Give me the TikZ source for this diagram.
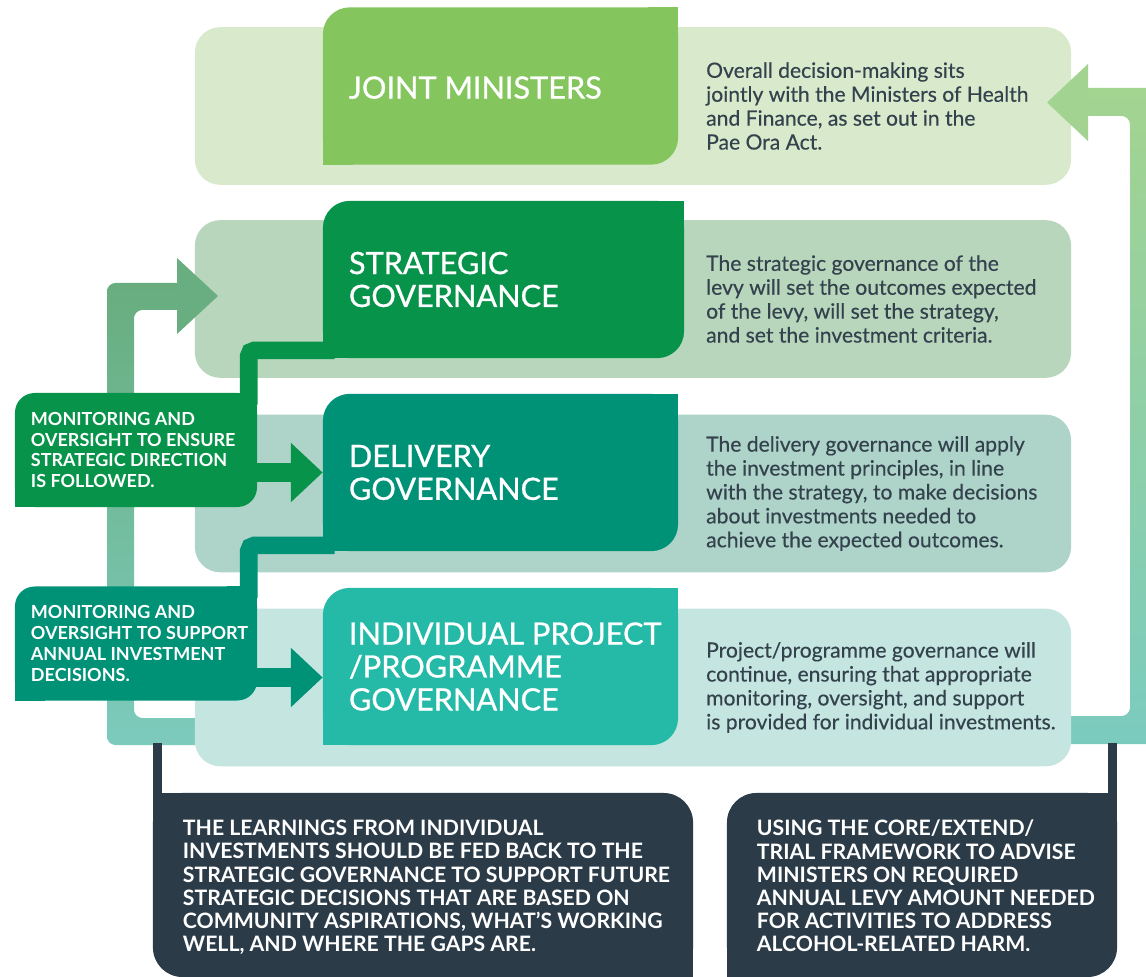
\documentclass[tikz,border=0pt]{standalone}
\usepackage{fontspec}
\setmainfont{Lato}
\newfontfamily\govfont[FakeBold=0.9]{Lato}
\newfontfamily\descfont[FakeBold=0.4]{Lato}
\usetikzlibrary{arrows.meta,positioning}

\definecolor{jmgreen}{HTML}{84C55E}
\definecolor{sggreen}{HTML}{07934A}
\definecolor{dgteal}{HTML}{009277}
\definecolor{ipgteal}{HTML}{25BAA8}
\definecolor{jmlight}{HTML}{D8EACB}
\definecolor{sglight}{HTML}{B7D6BB}
\definecolor{dglight}{HTML}{AED4C9}
\definecolor{ipglight}{HTML}{C5E6E0}
\definecolor{slate}{HTML}{2B3B48}
\definecolor{desctext}{HTML}{34424E}
\definecolor{backtop}{HTML}{67AB7A}
\definecolor{backbot}{HTML}{7DCBBE}
\definecolor{uptop}{HTML}{A5D48E}
\definecolor{upbot}{HTML}{7ACBBF}

% square off two corners of a rounded node
\newcommand{\sharpTRBL}[2]{%
  \fill[#2] (#1.north east) rectangle ++(-30,30);
  \fill[#2] (#1.south west) rectangle ++(30,-30);}
\newcommand{\sharpTLBR}[2]{%
  \fill[#2] (#1.north west) rectangle ++(30,30);
  \fill[#2] (#1.south east) rectangle ++(-30,-30);}

\tikzset{
  backbox/.style={rectangle, rounded corners=18pt, minimum width=21.9cm, minimum height=3.94cm, inner sep=0pt},
  govbox/.style={rectangle, rounded corners=19pt, minimum height=3.93cm, inner sep=0pt},
  govname/.style={anchor=west, inner sep=0pt, align=left, text=white, font=\govfont\fontsize{21.8}{23.4}\selectfont},
  desc/.style={anchor=west, inner sep=0pt, align=left, text=desctext, font=\descfont\fontsize{15}{17}\selectfont},
  notebox/.style={rectangle, rounded corners=14pt, minimum width=6.05cm, minimum height=2.85cm, inner sep=0pt},
  notetxt/.style={anchor=west, inner sep=0pt, align=left, text=white, font=\bfseries\fontsize{12.8}{14.9}\selectfont},
  darkbox/.style={rectangle, rounded corners=21pt, fill=slate, minimum height=4.6cm, inner sep=0pt},
  caps/.style={anchor=north west, inner sep=0pt, align=left, text=white, font=\bfseries\fontsize{15.1}{16.5}\selectfont},
  link/.style={line width=12.5pt, rounded corners=4pt},
  push/.style={line width=13.5pt, -{Triangle[length=22.7pt,width=41pt]}},
}

\begin{document}
\begin{tikzpicture}[x=0.025cm, y=-0.025cm]
\useasboundingbox (0,0) rectangle (1146,977);
\clip (0,0) rectangle (1146,977);

% feedback bars
\begin{scope}
  \clip[rounded corners=6pt] (205,745) -- (107,745) -- (107,283) -- (190,283) -- (190,310) -- (134,310) -- (134,718) -- (205,718) -- cycle;
  \shade[top color=backtop, bottom color=backbot] (100,250) rectangle (230,750);
\end{scope}
\begin{scope}
  \clip[rounded corners=6pt] (1060,716) -- (1130,716) -- (1130,116) -- (1075,116) -- (1075,88) -- (1160,88) -- (1160,744) -- (1060,744) -- cycle;
  \shade[top color=uptop, bottom color=upbot] (1040,60) rectangle (1160,750);
\end{scope}

% rows
\node (row1) at (633,106) [backbox, fill=jmlight] {};
\node (row2) at (633,299) [backbox, fill=sglight] {};
\node (row3) at (633,493.5) [backbox, fill=dglight] {};
\node (row4) at (633,687.5) [backbox, fill=ipglight] {};

% arrow heads of the feedback bars
\fill[backtop!91!backbot] (177,258) -- (218,296) -- (177,334) -- cycle;
\fill[uptop!94!upbot] (1088,64) -- (1088,141) -- (1047,102.5) -- cycle;

% governance boxes
\node (jm) at (500.5,86) [govbox, fill=jmgreen, minimum width=8.875cm] {};
\sharpTRBL{jm}{jmgreen}
\node (sg) at (503.5,279.5) [govbox, fill=sggreen, minimum width=9.025cm] {};
\sharpTRBL{sg}{sggreen}
\node (dg) at (500.5,472.5) [govbox, fill=dgteal, minimum width=8.875cm] {};
\sharpTRBL{dg}{dgteal}
\node (ipg) at (500.5,666.5) [govbox, fill=ipgteal, minimum width=8.875cm] {};
\sharpTRBL{ipg}{ipgteal}

\node (jmname) [govname] at ([xshift=0.65cm,yshift=-0.04cm]jm.west) {JOINT MINISTERS};
\node (sgname) [govname] at ([xshift=0.65cm]sg.west) {STRATEGIC\\GOVERNANCE};
\node (dgname) [govname] at ([xshift=0.65cm]dg.west) {DELIVERY\\GOVERNANCE};
\node (ipgname) [govname] at ([xshift=0.65cm]ipg.west) {INDIVIDUAL PROJECT\\/PROGRAMME\\GOVERNANCE};

\node (jmnote) [desc] at ([xshift=12.78cm]row1.west) {Overall decision-making sits\\jointly with the Ministers of Health\\and Finance, as set out in the\\Pae Ora Act.};
\node (sgnote) [desc] at ([xshift=12.78cm]row2.west) {The strategic governance of the\\levy will set the outcomes expected\\of the levy, will set the strategy,\\and set the investment criteria.};
\node (dgnote) [desc] at ([xshift=12.78cm]row3.west) {The delivery governance will apply\\the investment principles, in line\\with the strategy, to make decisions\\about investments needed to\\achieve the expected outcomes.};
\node (ipgnote) [desc] at ([xshift=12.78cm]row4.west) {Project/programme governance will\\continue, ensuring that appropriate\\monitoring, oversight, and support\\is provided for individual investments.};

% monitoring labels
\node (watch1) at (136,450) [notebox, fill=sggreen] {};
\sharpTRBL{watch1}{sggreen}
\node (watch2) at (136,643.5) [notebox, fill=dgteal] {};
\sharpTRBL{watch2}{dgteal}
\draw[link, sggreen] ([xshift=0.3cm,yshift=0.2cm]sg.south west) -| ([xshift=5.85cm,yshift=-0.3cm]watch1.north west);
\draw[link, dgteal] ([xshift=0.3cm,yshift=0.15cm]dg.south west) -| ([xshift=5.85cm,yshift=-0.3cm]watch2.north west);
\coordinate (ipgin) at ([yshift=-0.275cm]ipg.west);
\draw[push, sggreen] ([xshift=-0.2cm]watch1.east |- dg.west) -- (dg.west);
\draw[push, dgteal] ([xshift=-0.2cm]watch2.east |- ipgin) -- (ipgin);

\node (watch1txt) [notetxt] at ([xshift=0.4cm]watch1.west) {MONITORING AND\\OVERSIGHT TO ENSURE\\STRATEGIC DIRECTION\\IS FOLLOWED.};
\node (watch2txt) [notetxt] at ([xshift=0.4cm]watch2.west) {MONITORING AND\\OVERSIGHT TO SUPPORT\\ANNUAL INVESTMENT\\DECISIONS.};

% bottom boxes
\node (learn) at (423,885) [darkbox, minimum width=13.5cm] {};
\sharpTLBR{learn}{slate}
\node (levy) at (922,885) [darkbox, minimum width=9.75cm] {};
\sharpTRBL{levy}{slate}
\fill[slate] (learn.north west) rectangle ++(9,-50);
\fill[slate] (levy.north east) rectangle ++(-9,-50);

\node (learntxt) [caps] at ([xshift=0.75cm,yshift=-0.68cm]learn.north west) {THE LEARNINGS FROM INDIVIDUAL\\INVESTMENTS SHOULD BE FED BACK TO THE\\STRATEGIC GOVERNANCE TO SUPPORT FUTURE\\STRATEGIC DECISIONS THAT ARE BASED ON\\COMMUNITY ASPIRATIONS, WHAT’S WORKING\\WELL, AND WHERE THE GAPS ARE.};
\node (levytxt) [caps] at ([xshift=0.75cm,yshift=-0.68cm]levy.north west) {USING THE CORE/EXTEND/\\TRIAL FRAMEWORK TO ADVISE\\MINISTERS ON REQUIRED\\ANNUAL LEVY AMOUNT NEEDED\\FOR ACTIVITIES TO ADDRESS\\ALCOHOL-RELATED HARM.};
\end{tikzpicture}
\end{document}
